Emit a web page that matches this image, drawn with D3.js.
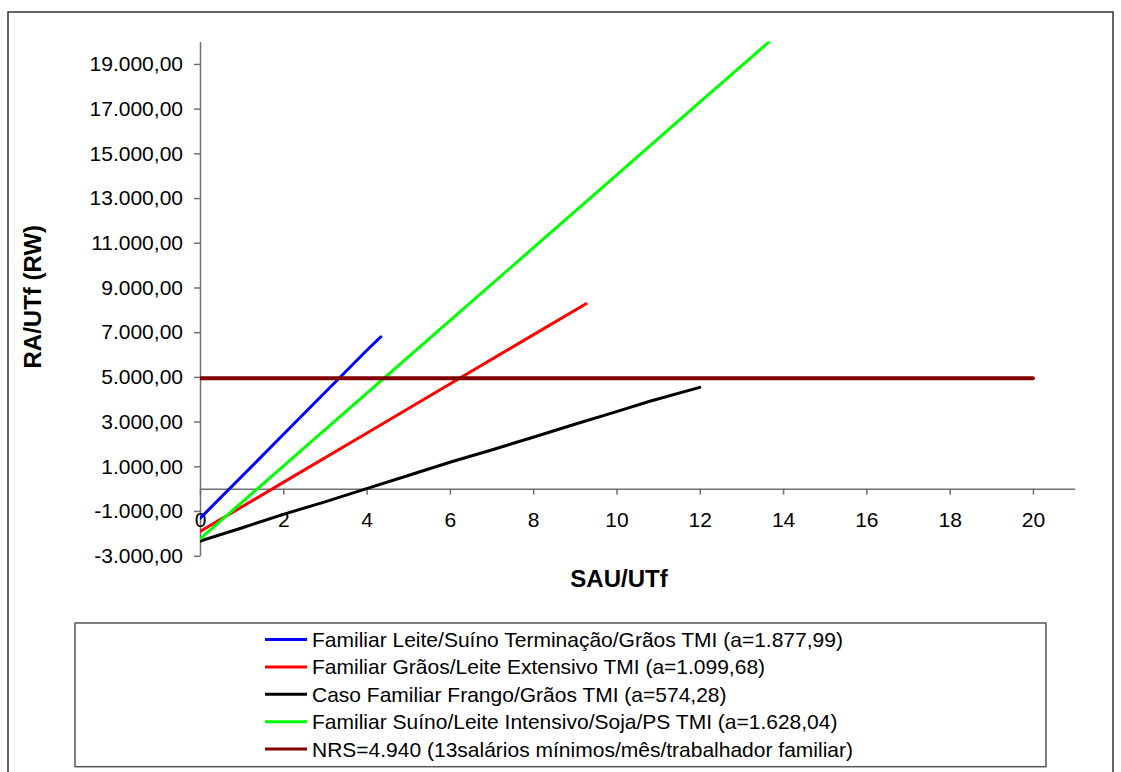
<!DOCTYPE html>
<html>
<head>
<meta charset="utf-8">
<script src="https://cdn.jsdelivr.net/npm/d3@7"></script>
<style>
  html, body { margin: 0; padding: 0; background: #fff; }
  svg { display: block; font-family: "Liberation Sans", Arial, sans-serif; }
</style>
</head>
<body>
<svg id="chart" width="1121" height="772"></svg>
<script>
// ---- data -------------------------------------------------------------
const seriesNames = [
  "Familiar Leite/Suíno Terminação/Grãos TMI (a=1.877,99)",
  "Familiar Grãos/Leite Extensivo TMI (a=1.099,68)",
  "Caso Familiar Frango/Grãos TMI (a=574,28)",
  "Familiar Suíno/Leite Intensivo/Soja/PS TMI (a=1.628,04)",
  "NRS=4.940 (13salários mínimos/mês/trabalhador familiar)"
];
const seriesColors = ["#0000ff", "#ff0000", "#000000", "#00ff00", "#800000"];

// SAU/UTf (x) and RA/UTf (y) for each system
const leiteSuinoX = [0, 1, 2, 3, 4, 4.34];
const leiteSuinoY = [-1330, 545, 2420, 4300, 6180, 6790];

const graosLeiteX = [0, 2, 4, 6, 8, 9.27];
const graosLeiteY = [-1920, 280, 2480, 4680, 6880, 8270];

const frangoX = [0, 1, 2, 3, 4, 5, 6, 7, 8, 9, 10, 10.8, 12];
const frangoY = [-2350, -1760, -1150, -590, 0, 590, 1180, 1730, 2300, 2880, 3445, 3910, 4530];

const suinoLeiteX = [0, 2, 4, 6, 8, 10, 12, 13.7];
const suinoLeiteY = [-2250, 1010, 4260, 7520, 10770, 14030, 17290, 20050];

const nrsX = [0, 20];
const nrsY = [4940, 4940];

const xTicks = [0, 2, 4, 6, 8, 10, 12, 14, 16, 18, 20];
const yTicks = [-3000, -1000, 1000, 3000, 5000, 7000, 9000, 11000, 13000, 15000, 17000, 19000];

const xTitle = "SAU/UTf";
const yTitle = "RA/UTf (RW)";

// ---- layout -----------------------------------------------------------
const svg = d3.select("#chart");
const plot = { left: 200, right: 1074.6, top: 41.6, bottom: 555.7 };

const x = d3.scaleLinear().domain([0, 21]).range([plot.left, plot.right]);
const y = d3.scaleLinear().domain([-3000, 20000]).range([plot.bottom, plot.top]);

const ptBR = d3.formatLocale({ decimal: ",", thousands: ".", grouping: [3], currency: ["R$", ""], minus: "-" });
const fmt = ptBR.format(",.2f");

// outer chart frame
svg.append("rect")
  .attr("x", 8).attr("y", 12).attr("width", 1105).attr("height", 820)
  .attr("fill", "none").attr("stroke", "#333").attr("stroke-width", 1.5);

const axisColor = "#707070";
const tickFont = 21;

// y axis
const gy = svg.append("g")
  .attr("transform", `translate(${plot.left},0)`)
  .call(d3.axisLeft(y).tickValues(yTicks).tickFormat(fmt).tickSize(6).tickSizeOuter(0).tickPadding(11));
gy.select(".domain").attr("stroke", axisColor).attr("stroke-width", 1.5);
gy.selectAll(".tick line").attr("stroke", axisColor).attr("stroke-width", 1.5);
gy.selectAll(".tick text").attr("font-size", tickFont).attr("fill", "#000")
  .attr("font-family", "Liberation Sans, Arial, sans-serif");

// x axis crossing at y = 0
const gx = svg.append("g")
  .attr("transform", `translate(0,${y(0)})`)
  .call(d3.axisBottom(x).tickValues(xTicks).tickFormat(d3.format("d")).tickSize(6).tickSizeOuter(0).tickPadding(17));
gx.select(".domain").attr("stroke", axisColor).attr("stroke-width", 1.5);
gx.selectAll(".tick line").attr("stroke", axisColor).attr("stroke-width", 1.5);
gx.selectAll(".tick text").attr("font-size", tickFont).attr("fill", "#000")
  .attr("font-family", "Liberation Sans, Arial, sans-serif");

// axis titles
svg.append("text")
  .attr("transform", `translate(32.5,296.7) rotate(-90)`)
  .attr("text-anchor", "middle").attr("dominant-baseline", "central")
  .attr("font-size", 24).attr("font-weight", "bold").text(yTitle);

svg.append("text")
  .attr("x", 619).attr("y", 578)
  .attr("text-anchor", "middle").attr("dominant-baseline", "central")
  .attr("font-size", 24).attr("font-weight", "bold").text(xTitle);

// series lines
svg.append("clipPath").attr("id", "plotClip")
  .append("rect")
  .attr("x", plot.left).attr("y", plot.top)
  .attr("width", plot.right - plot.left).attr("height", plot.bottom - plot.top);

const series = [
  { xs: leiteSuinoX, ys: leiteSuinoY, width: 3 },
  { xs: graosLeiteX, ys: graosLeiteY, width: 3 },
  { xs: frangoX, ys: frangoY, width: 3 },
  { xs: suinoLeiteX, ys: suinoLeiteY, width: 3 },
  { xs: nrsX, ys: nrsY, width: 4 }
];
const line = d3.line().x(d => x(d[0])).y(d => y(d[1]));

const lines = svg.append("g").attr("clip-path", "url(#plotClip)");
series.forEach((s, i) => {
  lines.append("path")
    .datum(s.xs.map((v, k) => [v, s.ys[k]]))
    .attr("d", line)
    .attr("fill", "none")
    .attr("stroke", seriesColors[i])
    .attr("stroke-width", s.width)
    .attr("stroke-linejoin", "round")
    .attr("stroke-linecap", "round");
});

// legend
const legend = svg.append("g");
legend.append("rect")
  .attr("x", 75).attr("y", 623).attr("width", 971).attr("height", 143.7)
  .attr("fill", "#fff").attr("stroke", "#555").attr("stroke-width", 1.5);

seriesNames.forEach((name, i) => {
  const cy = 639.5 + i * 27.4;
  legend.append("line")
    .attr("x1", 265).attr("x2", 307).attr("y1", cy).attr("y2", cy)
    .attr("stroke", seriesColors[i]).attr("stroke-width", 3);
  legend.append("text")
    .attr("x", 312).attr("y", cy)
    .attr("dominant-baseline", "central")
    .attr("font-size", 21).attr("fill", "#000").text(name);
});
</script>
</body>
</html>
